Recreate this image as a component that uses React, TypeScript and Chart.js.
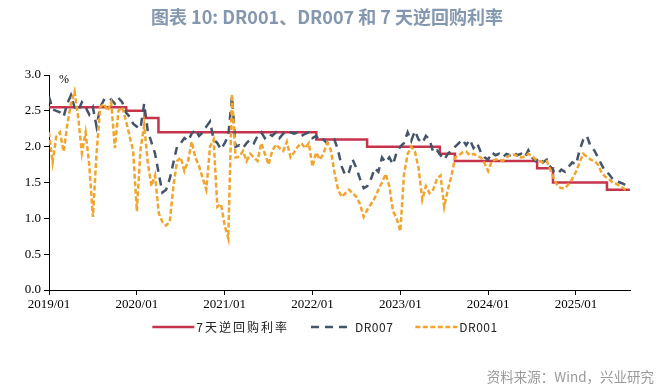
import React, { useEffect, useRef } from "react";
import { Chart, registerables } from "chart.js";

Chart.register(...registerables);

const TITLE = "图表 10: DR001、DR007 和 7 天逆回购利率";
const SOURCE = "资料来源：Wind，兴业研究";
const UNIT = "%";

const xTickYears = [2019, 2020, 2021, 2022, 2023, 2024, 2025];
const X_MIN = 2019;
const X_MAX = 2025.615;

// semi-monthly observation dates (1st and 16th of each month), 2019-01-01 .. 2025-08-01
const dates: string[] = [];
for (let y = 2019; y <= 2025; y++) {
  for (let m = 1; m <= 12; m++) {
    for (const d of [1, 16]) {
      if (y === 2025 && (m > 8 || (m === 8 && d === 16))) continue;
      dates.push(`${y}-${String(m).padStart(2, "0")}-${String(d).padStart(2, "0")}`);
    }
  }
}

const dr007 = [
  2.70, 2.52, 2.50, 2.48, 2.42, 2.60, 2.72, 2.55, 2.50, 2.62,
  2.55, 2.45, 2.55, 2.28, 2.55, 2.65, 2.62, 2.66, 2.60, 2.68,
  2.62, 2.48, 2.42, 2.32, 2.28, 2.25, 2.60, 2.22, 2.06, 1.90,
  1.62, 1.36, 1.40, 1.55, 1.78, 2.00, 2.05, 2.12, 2.08, 2.18,
  2.24, 2.15, 2.20, 2.28, 2.35, 2.10, 2.05, 1.96, 2.05, 2.15,
  2.70, 2.00, 2.02, 1.98, 2.05, 2.10, 2.05, 2.15, 2.20, 2.12,
  2.18, 2.15, 2.20, 2.12, 2.18, 2.22, 2.20, 2.18, 2.20, 2.15,
  2.18, 2.20, 2.12, 2.15, 2.08, 2.10, 2.05, 2.08, 2.10, 1.95,
  1.72, 1.60, 1.65, 1.82, 1.70, 1.55, 1.42, 1.45, 1.55, 1.70,
  1.65, 1.85, 1.78, 1.85, 1.75, 1.92, 2.00, 2.05, 2.20, 2.08,
  2.22, 2.10, 2.05, 2.15, 2.10, 1.92, 1.95, 1.88, 1.82, 1.90,
  1.95, 2.00, 2.05, 2.10, 2.02, 2.10, 1.98, 2.05, 1.92, 1.85,
  1.82, 1.92, 1.88, 1.90, 1.85, 1.90, 1.88, 1.92, 1.88, 1.90,
  1.85, 1.95, 1.85, 1.80, 1.85, 1.78, 1.82, 1.72, 1.65, 1.62,
  1.68, 1.65, 1.72, 1.78, 1.75, 1.95, 2.10, 2.15, 2.00, 1.95,
  1.85, 1.75, 1.65, 1.62, 1.55, 1.52, 1.50, 1.48, 1.45,
];

const dr001 = [
  2.20, 1.78, 2.14, 2.20, 1.93, 2.30, 2.60, 2.77, 2.40, 1.91,
  2.20, 1.75, 1.02, 1.90, 2.55, 2.60, 2.50, 2.62, 1.98, 2.50,
  2.55, 2.37, 2.15, 1.95, 1.10, 1.95, 2.30, 1.78, 1.45, 1.60,
  1.07, 0.95, 0.90, 0.95, 1.45, 1.80, 1.85, 1.66, 1.80, 2.07,
  1.85, 1.73, 1.56, 1.40, 2.00, 2.10, 1.16, 1.20, 0.90, 0.72,
  2.73, 1.85, 1.86, 1.94, 1.80, 1.90, 1.85, 1.80, 2.05, 1.90,
  1.75, 1.94, 2.03, 1.98, 1.94, 2.07, 1.85, 1.92, 2.00, 2.05,
  1.98, 2.05, 1.72, 1.92, 1.82, 1.90, 2.05, 1.96, 1.64, 1.40,
  1.30, 1.35, 1.40, 1.35, 1.30, 1.20, 1.02, 1.12, 1.20, 1.28,
  1.40, 1.50, 1.62, 1.45, 1.10, 1.00, 0.82, 1.60, 1.90, 2.00,
  1.93, 1.70, 1.26, 1.45, 1.35, 1.40, 1.55, 1.60, 1.16, 1.40,
  1.60, 1.85, 1.88, 1.92, 1.93, 1.88, 1.90, 1.87, 1.85, 1.77,
  1.66, 1.80, 1.82, 1.82, 1.80, 1.85, 1.88, 1.89, 1.87, 1.85,
  1.86, 1.90, 1.87, 1.82, 1.80, 1.78, 1.80, 1.68, 1.55, 1.45,
  1.42, 1.42, 1.48, 1.55, 1.65, 1.78, 1.90, 1.86, 1.82, 1.80,
  1.75, 1.64, 1.58, 1.55, 1.50, 1.48, 1.45, 1.42, 1.38,
];

// 7-day reverse repo policy rate: change dates and new levels
const policyDates = [
  "2019-01-01", "2019-11-18", "2020-02-03", "2020-03-30", "2022-01-17", "2022-08-15",
  "2023-06-13", "2023-08-15", "2024-07-22", "2024-09-27", "2025-05-08", "2025-08-12",
];
const policyRates = [2.55, 2.50, 2.40, 2.20, 2.10, 2.00, 1.90, 1.80, 1.70, 1.50, 1.40, 1.40];

const seriesNames = ["7天逆回购利率", "DR007", "DR001"];

const toYear = (s: string) => {
  const [y, m, d] = s.split("-").map(Number);
  return y + (m - 1) / 12 + (d - 1) / 365;
};

const COLORS = { policy: "#C8334C", dr007: "#44546A", dr001: "#F2A52E" };

const overlayPlugin = {
  id: "overlay",
  afterDraw(chart: any) {
    const ctx = chart.ctx as CanvasRenderingContext2D;
    const a = chart.chartArea;
    ctx.save();
    // title
    ctx.font = "bold 18px 'Noto Sans CJK SC'";
    ctx.fillStyle = "#8497B0";
    ctx.textAlign = "center";
    ctx.textBaseline = "middle";
    ctx.fillText(TITLE, 327, 17);

    // unit
    ctx.font = "12px 'Liberation Serif'";
    ctx.fillStyle = "#000";
    ctx.textAlign = "left";
    ctx.fillText(UNIT, a.left + 10, a.top + 5);

    // legend (order: policy, DR007, DR001)
    const order = [2, 1, 0];
    const lineW = 42;
    const gapText = 2;
    const gapItem = 22;
    ctx.font = "12px 'Noto Sans CJK SC'";
    const items = order.map((idx) => {
      const ds = chart.data.datasets[idx];
      const spacing = /[\u4e00-\u9fff]/.test(ds.label) ? "2px" : "0.5px";
      (ctx as any).letterSpacing = spacing;
      const w = ctx.measureText(ds.label).width;
      return { ds, spacing, w };
    });
    const total = items.reduce((s, it) => s + lineW + gapText + it.w, 0) + gapItem * (items.length - 1);
    let x = 325 - total / 2;
    const ly = 327;
    for (const it of items) {
      ctx.beginPath();
      ctx.strokeStyle = it.ds.borderColor;
      ctx.lineWidth = it.ds.borderWidth;
      ctx.setLineDash(it.ds.borderDash || []);
      ctx.lineCap = "butt";
      ctx.moveTo(x, ly);
      ctx.lineTo(x + lineW, ly);
      ctx.stroke();
      ctx.setLineDash([]);
      x += lineW + gapText;
      (ctx as any).letterSpacing = it.spacing;
      ctx.fillStyle = "#222";
      ctx.textAlign = "left";
      ctx.textBaseline = "middle";
      ctx.fillText(it.ds.label, x, ly);
      x += it.w + gapItem;
    }
    (ctx as any).letterSpacing = "0px";

    // source
    ctx.font = "13.5px 'Noto Sans CJK SC'";
    ctx.fillStyle = "#9A9A9A";
    ctx.textAlign = "right";
    ctx.textBaseline = "middle";
    ctx.fillText(SOURCE, 654, 377);
    ctx.restore();
  },
};

export default function App() {
  const ref = useRef<HTMLCanvasElement | null>(null);

  useEffect(() => {
    if (!ref.current) return;
    const tickFont = { family: "'Liberation Serif'", size: 13 };
    const chart = new Chart(ref.current, {
      type: "line",
      data: {
        datasets: [
          {
            label: seriesNames[2],
            data: dates.map((d, i) => ({ x: toYear(d), y: dr001[i] })),
            borderColor: COLORS.dr001,
            borderWidth: 2.5,
            borderDash: [5, 2.5],
            pointRadius: 0,
            tension: 0,
            fill: false,
          },
          {
            label: seriesNames[1],
            data: dates.map((d, i) => ({ x: toYear(d), y: dr007[i] })),
            borderColor: COLORS.dr007,
            borderWidth: 2.5,
            borderDash: [8, 6],
            pointRadius: 0,
            tension: 0,
            fill: false,
          },
          {
            label: seriesNames[0],
            data: policyDates.map((d, i) => ({ x: toYear(d), y: policyRates[i] })),
            borderColor: COLORS.policy,
            borderWidth: 2.5,
            stepped: "before",
            pointRadius: 0,
            fill: false,
          },
        ],
      },
      options: {
        responsive: false,
        animation: false,
        events: [],
        layout: { padding: { top: 75, right: 40, bottom: 75, left: 0 } },
        plugins: {
          legend: { display: false },
          title: { display: false },
          tooltip: { enabled: false },
        },
        scales: {
          x: {
            type: "linear",
            min: X_MIN,
            max: X_MAX,
            afterBuildTicks: (scale: any) => {
              scale.ticks = xTickYears.map((v) => ({ value: v }));
            },
            afterFit: (scale: any) => {
              scale.height = 23;
            },
            ticks: {
              autoSkip: false,
              maxRotation: 0,
              padding: 2,
              color: "#000",
              font: tickFont,
              callback: (v: any) => `${v}/01`,
            },
            grid: {
              display: true,
              drawOnChartArea: false,
              drawTicks: true,
              tickLength: 5,
              color: "#000",
              lineWidth: 1,
            },
            border: { display: true, color: "#000", width: 1 },
          },
          y: {
            min: 0,
            max: 3,
            afterFit: (scale: any) => {
              scale.width = 49;
            },
            ticks: {
              stepSize: 0.5,
              padding: 3,
              color: "#000",
              font: tickFont,
              callback: (v: any) => Number(v).toFixed(1),
            },
            grid: {
              display: true,
              drawOnChartArea: false,
              drawTicks: true,
              tickLength: 5,
              color: "#000",
              lineWidth: 1,
            },
            border: { display: true, color: "#000", width: 1 },
          },
        },
      },
      plugins: [overlayPlugin],
    } as any);
    return () => chart.destroy();
  }, []);

  return (
    <div style={{ position: "absolute", left: 0, top: 0, width: 670, height: 388, background: "#fff" }}>
      <canvas ref={ref} width={670} height={388} style={{ width: 670, height: 388, display: "block" }} />
    </div>
  );
}
